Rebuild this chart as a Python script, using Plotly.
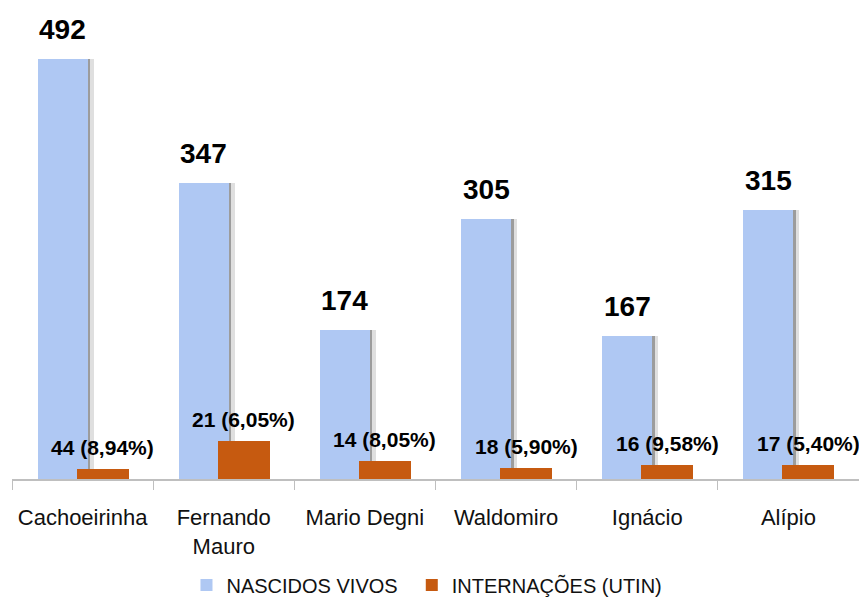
import plotly.graph_objects as go

# unidades
unidades = ['Cachoeirinha', 'Fernando<br>Mauro', 'Mario Degni', 'Waldomiro', 'Ignácio', 'Alípio']

# nascidos vivos
nascidos = [492, 347, 174, 305, 167, 315]

intern_altura = [12, 44, 21, 13, 16, 16]
intern_qtd = [44, 21, 14, 18, 16, 17]
intern_pct = ['8,94%', '6,05%', '8,05%', '5,90%', '9,58%', '5,40%']

AZUL = '#AFC8F3'
LARANJA = '#C65A10'
FONTE = 'Liberation Sans, Arial, sans-serif'

cat_px = 847 / 6.0  # largura de uma categoria em px

fig = go.Figure()

# sombra das barras azuis
fig.add_trace(go.Bar(x=unidades, y=nascidos, offset=5 / cat_px, width=6 / cat_px,
                     marker=dict(color='rgba(150,150,150,0.30)', line_width=0),
                     showlegend=False, hoverinfo='skip'))
fig.add_trace(go.Bar(x=unidades, y=nascidos, offset=5 / cat_px, width=2.5 / cat_px,
                     marker=dict(color='rgba(90,90,90,0.50)', line_width=0),
                     showlegend=False, hoverinfo='skip'))

fig.add_trace(go.Bar(x=unidades, y=nascidos, name='NASCIDOS VIVOS',
                     offset=-45 / cat_px, width=50 / cat_px,
                     marker=dict(color=AZUL, line_width=0), legend='legend'))
fig.add_trace(go.Bar(x=unidades, y=intern_altura, name='INTERNAÇÕES (UTIN)',
                     offset=-6 / cat_px, width=52 / cat_px,
                     marker=dict(color=LARANJA, line_width=0), legend='legend2'))

for u, v in zip(unidades, nascidos):
    fig.add_annotation(x=u, y=v, text='<b>%d</b>' % v, showarrow=False,
                       xshift=-20, yshift=12, yanchor='bottom',
                       font=dict(family=FONTE, size=28, color='black'))

for u, h, q, p in zip(unidades, intern_altura, intern_qtd, intern_pct):
    fig.add_annotation(x=u, y=h, text='<b>%d (%s)</b>' % (q, p), showarrow=False,
                       xshift=20, yshift=8, yanchor='bottom',
                       font=dict(family=FONTE, size=21, color='black'))

leg = dict(orientation='h', y=-0.226, yanchor='middle', xanchor='left',
           font=dict(size=20, color='#111111'), bgcolor='rgba(0,0,0,0)')

# a página tem 8px de margem: a figura ocupa 859x590
fig.update_layout(
    width=859, height=590,
    margin=dict(l=4, r=8, t=2, b=119, autoexpand=False),
    plot_bgcolor='white', paper_bgcolor='white',
    barmode='overlay', bargap=0,
    font=dict(family=FONTE, color='#111111'),
    xaxis=dict(type='category', range=[-0.5, 5.5], tickson='boundaries',
               ticks='outside', ticklen=9, tickcolor='#BFBFBF',
               showline=True, linecolor='#BFBFBF', linewidth=1.5,
               showgrid=False, tickfont=dict(size=22, color='#111111'),
               ticklabelstandoff=18),
    yaxis=dict(range=[0, 549.4], visible=False, showgrid=False, zeroline=False),
    legend=dict(leg, x=0.206),
    legend2=dict(leg, x=0.472),
)

fig.write_html('out.html')
